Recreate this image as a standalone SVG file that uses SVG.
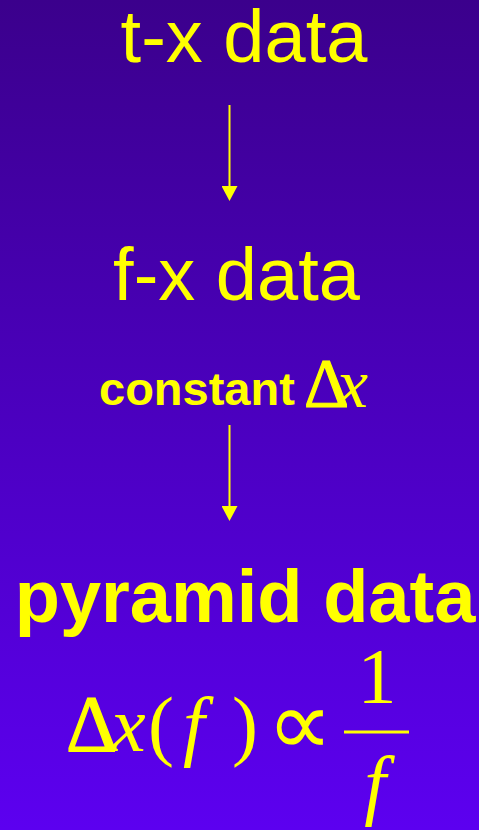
<svg xmlns="http://www.w3.org/2000/svg" width="479" height="830" viewBox="0 0 479 830">
  <defs>
    <linearGradient id="bg" x1="0" y1="0" x2="0" y2="1">
      <stop offset="0" stop-color="#3b008c"/>
      <stop offset="0.5" stop-color="#4b00bf"/>
      <stop offset="1" stop-color="#5c00f0"/>
    </linearGradient>
    <marker id="ah" viewBox="0 0 15 16" refX="0" refY="8" markerWidth="15" markerHeight="16" markerUnits="userSpaceOnUse" orient="auto">
      <path d="M0,0 L15,8 L0,16 z" fill="#ffff00"/>
    </marker>
    <style>
      .sans { font-family: "Liberation Sans", Arial, sans-serif; fill: #ffff00; }
      .big { font-size: 74px; }
      .bold { font-weight: bold; }
      .serif { font-family: "Liberation Serif", "Times New Roman", serif; fill: #ffff00; }
      .it { font-style: italic; }
      .delta { stroke: #ffff00; stroke-width: 1.2; }
      .conn { stroke: #ffff00; stroke-width: 2; fill: none; }
    </style>
  </defs>
  <rect x="0" y="0" width="479" height="830" fill="url(#bg)"/>

  <g id="tx-data">
    <text class="sans big" x="244" y="62" text-anchor="middle">t-x data</text>
  </g>

  <g id="fx-data">
    <text class="sans big" x="236.5" y="300" text-anchor="middle">f-x data</text>
  </g>

  <g id="constant-dx">
    <text class="sans bold" x="99" y="405" font-size="47">constant</text>
    <text class="serif delta" x="304" y="407" font-size="70">Δ</text>
    <text class="serif it" x="337" y="407" font-size="70">x</text>
  </g>

  <g id="pyramid-data">
    <text class="sans bold big" x="245" y="622" text-anchor="middle">pyramid data</text>
  </g>

  <g id="formula">
    <text class="serif delta" x="66" y="751" font-size="80">Δ</text>
    <text class="serif it" x="111" y="751" font-size="78">x</text>
    <text class="serif" x="148" y="751" font-size="78">(</text>
    <text class="serif it" x="183" y="751" font-size="78">f</text>
    <text class="serif" x="232" y="751" font-size="78">)</text>
    <text class="serif" x="267" y="755" font-size="92">∝</text>
    <text class="serif" x="377" y="702" font-size="78" text-anchor="middle">1</text>
    <rect x="344" y="730.5" width="65" height="3" fill="#ffff00"/>
    <text class="serif it" x="375" y="810" font-size="78" text-anchor="middle">f</text>
  </g>

  <g id="connectors">
    <line class="conn" x1="229.5" y1="105" x2="229.5" y2="186" marker-end="url(#ah)"/>
    <line class="conn" x1="229.5" y1="425" x2="229.5" y2="506" marker-end="url(#ah)"/>
  </g>
</svg>
